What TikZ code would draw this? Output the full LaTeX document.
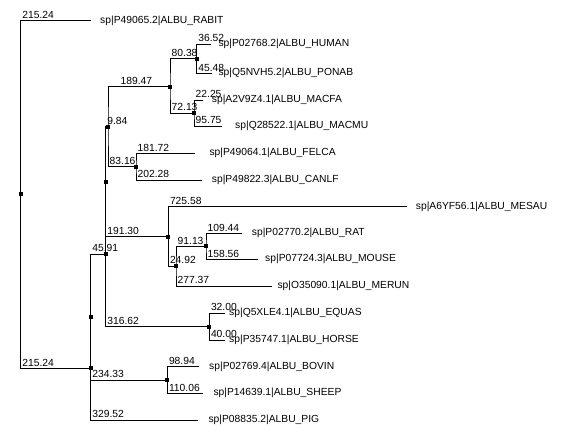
\documentclass[tikz,border=0pt]{standalone}
\usepackage{fontspec}
\setmainfont{Liberation Sans}
\begin{document}
\begin{tikzpicture}[x=1pt,y=-1pt,
  br/.style={draw=black, line width=1pt},
  mk/.style={rectangle, fill=black, draw=none, minimum size=4pt, inner sep=0pt, outer sep=0pt},
  blen/.style={anchor=base west, inner sep=0pt, font=\fontsize{10.3}{12}\selectfont, xshift=1.5pt, yshift=2.3pt},
  leaf/.style={anchor=base west, inner sep=0pt, font=\fontsize{10.3}{12}\selectfont}]
\fill[white] (0,0) rectangle (582,447);
\useasboundingbox (0,0) rectangle (582,447);

% internal nodes of the tree
\coordinate (root) at (20.7,194.3);
\coordinate (nA)  at (90.7,368.3);
\coordinate (nA2) at (90.7,317);
\coordinate (nB)  at (105.7,254);
\coordinate (nB2) at (105.7,181.5);
\coordinate (nC)  at (108,126.7);
\coordinate (nD)  at (170,86.7);
\coordinate (nF)  at (196.7,58.7);
\coordinate (nG)  at (194,113);
\coordinate (nE)  at (136,166.7);
\coordinate (nH)  at (168.3,236.5);
\coordinate (nI)  at (176,266);
\coordinate (nJ)  at (206,246.3);
\coordinate (nK)  at (209.3,326.5);
\coordinate (nL)  at (167.3,380);

% free ends of the leaf branches
\coordinate (eRABIT) at (90.7,20.7);
\coordinate (eHUMAN) at (211,44);
\coordinate (ePONAB) at (211.7,73.3);
\coordinate (eMACFA) at (203.3,100);
\coordinate (eMACMU) at (222.3,126);
\coordinate (eFELCA) at (195,153.3);
\coordinate (eCANLF) at (201.7,180);
\coordinate (eMESAU) at (406.7,206.7);
\coordinate (eRAT)   at (241.7,233.3);
\coordinate (eMOUSE) at (258.3,259.3);
\coordinate (eMERUN) at (271.7,286);
\coordinate (eEQUAS) at (225,313);
\coordinate (eHORSE) at (225,340);
\coordinate (eBOVIN) at (199.3,366.7);
\coordinate (eSHEEP) at (203.3,393.3);
\coordinate (ePIG)   at (198.3,420);

% branches (elbow style)
\draw[br] (eRABIT) -| (root) |- (nA);
\draw[br] (nA2) -| (nA) |- (ePIG);
\draw[br] (nB) -| (nA2) |- (nL);
\draw[br] (nB2) -| (nB) |- (nK);
\draw[br] (nC) -| (nB2) |- (nH);
\draw[br] (nD) -| (nC) |- (nE);
\draw[br] (nF) -| (nD) |- (nG);
\draw[br] (eHUMAN) -| (nF) |- (ePONAB);
\draw[br] (eMACFA) -| (nG) |- (eMACMU);
\draw[br] (eFELCA) -| (nE) |- (eCANLF);
\draw[br] (eMESAU) -| (nH) |- (nI);
\draw[br] (nJ) -| (nI) |- (eMERUN);
\draw[br] (eRAT) -| (nJ) |- (eMOUSE);
\draw[br] (eEQUAS) -| (nK) |- (eHORSE);
\draw[br] (eBOVIN) -| (nL) |- (eSHEEP);

% node markers
\foreach \n in {root,nA,nA2,nB,nB2,nC,nD,nF,nG,nE,nH,nI,nJ,nK,nL}
  \node[mk] (m\n) at (\n) {};

% branch lengths
\node[blen] (lRABIT) at (root |- eRABIT) {215.24};
\node[blen] (lA)     at (root |- nA) {215.24};
\node[blen] (lB)     at (nA2 |- nB) {45.91};
\node[blen] (lL)     at (nA2 |- nL) {234.33};
\node[blen] (lPIG)   at (nA |- ePIG) {329.52};
\node[blen] (lC)     at (nB2 |- nC) {9.84};
\node[blen] (lH)     at (nB2 |- nH) {191.30};
\node[blen] (lK)     at (nB |- nK) {316.62};
\node[blen, xshift=11pt] (lD) at (nC |- nD) {189.47};
\node[blen] (lE)     at (nC |- nE) {83.16};
\node[blen] (lF)     at (nD |- nF) {80.38};
\node[blen] (lG)     at (nD |- nG) {72.13};
\node[blen] (lHUMAN) at (nF |- eHUMAN) {36.52};
\node[blen] (lPONAB) at (nF |- ePONAB) {45.48};
\node[blen] (lMACFA) at (nG |- eMACFA) {22.25};
\node[blen] (lMACMU) at (nG |- eMACMU) {95.75};
\node[blen] (lFELCA) at (nE |- eFELCA) {181.72};
\node[blen] (lCANLF) at (nE |- eCANLF) {202.28};
\node[blen] (lMESAU) at (nH |- eMESAU) {725.58};
\node[blen] (lI)     at (nH |- nI) {24.92};
\node[blen] (lJ)     at (nI |- nJ) {91.13};
\node[blen] (lMERUN) at (nI |- eMERUN) {277.37};
\node[blen] (lRAT)   at (nJ |- eRAT) {109.44};
\node[blen] (lMOUSE) at (nJ |- eMOUSE) {158.56};
\node[blen] (lEQUAS) at (nK |- eEQUAS) {32.00};
\node[blen] (lHORSE) at (nK |- eHORSE) {40.00};
\node[blen] (lBOVIN) at (nL |- eBOVIN) {98.94};
\node[blen] (lSHEEP) at (nL |- eSHEEP) {110.06};

% leaf names
\node[leaf] (tRABIT) at (100,23.2)   {sp|P49065.2|ALBU\_RABIT};
\node[leaf] (tHUMAN) at (218.3,46.5) {sp|P02768.2|ALBU\_HUMAN};
\node[leaf] (tPONAB) at (218.3,75.8) {sp|Q5NVH5.2|ALBU\_PONAB};
\node[leaf] (tMACFA) at (211.7,102.5) {sp|A2V9Z4.1|ALBU\_MACFA};
\node[leaf] (tMACMU) at (235,128.5)  {sp|Q28522.1|ALBU\_MACMU};
\node[leaf] (tFELCA) at (209.3,155.8) {sp|P49064.1|ALBU\_FELCA};
\node[leaf] (tCANLF) at (211.7,182.5) {sp|P49822.3|ALBU\_CANLF};
\node[leaf] (tMESAU) at (415.7,209.2) {sp|A6YF56.1|ALBU\_MESAU};
\node[leaf] (tRAT)   at (251.7,235.8) {sp|P02770.2|ALBU\_RAT};
\node[leaf] (tMOUSE) at (265,261.8)  {sp|P07724.3|ALBU\_MOUSE};
\node[leaf] (tMERUN) at (277.3,288.5) {sp|O35090.1|ALBU\_MERUN};
\node[leaf] (tEQUAS) at (229,315.5)  {sp|Q5XLE4.1|ALBU\_EQUAS};
\node[leaf] (tHORSE) at (229,342.5)  {sp|P35747.1|ALBU\_HORSE};
\node[leaf] (tBOVIN) at (209,369.2)  {sp|P02769.4|ALBU\_BOVIN};
\node[leaf] (tSHEEP) at (213.3,395.8) {sp|P14639.1|ALBU\_SHEEP};
\node[leaf] (tPIG)   at (208.3,422.5) {sp|P08835.2|ALBU\_PIG};
\end{tikzpicture}
\end{document}
